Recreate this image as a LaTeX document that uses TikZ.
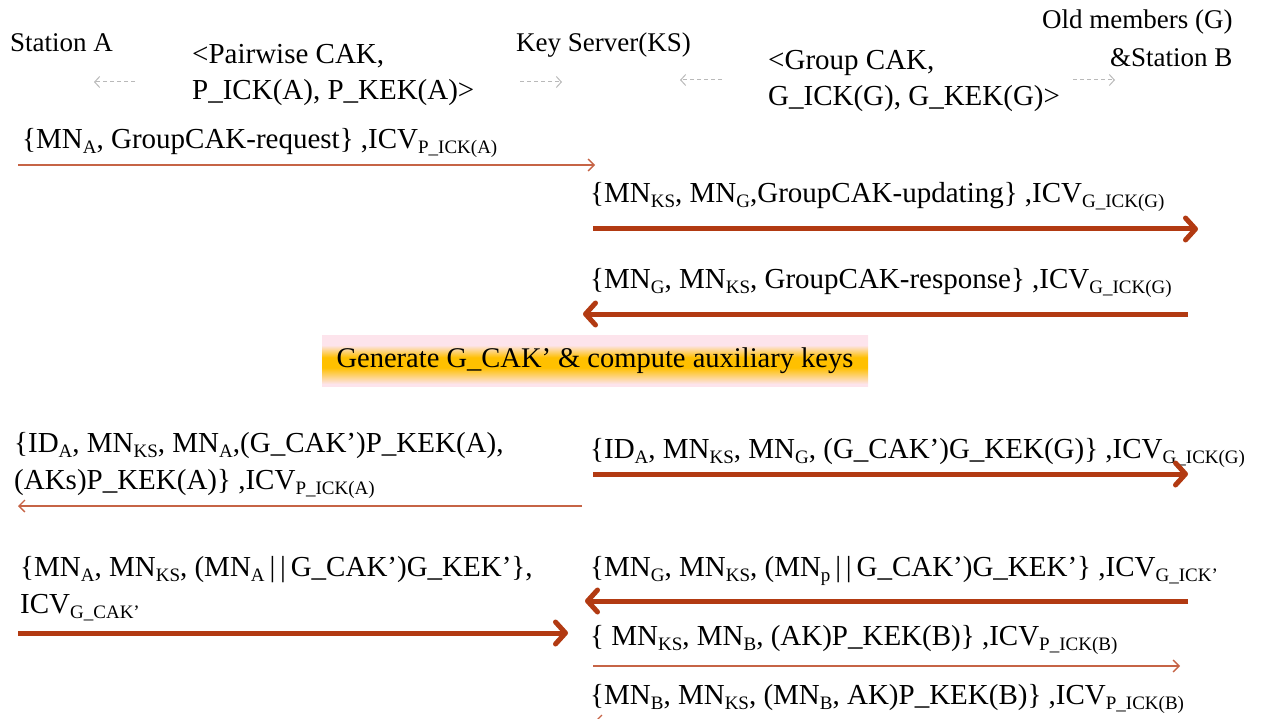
\documentclass[tikz,border=0pt]{standalone}
\usepackage{fontspec}
\setmainfont{Liberation Serif}
\usetikzlibrary{arrows.meta}

\definecolor{rust}{RGB}{178,58,18}
\definecolor{rustlight}{RGB}{198,100,70}
\definecolor{hintgray}{RGB}{185,185,185}
\definecolor{bandpink}{RGB}{253,228,236}
\definecolor{bandgold}{RGB}{255,192,0}

% vertical band: pink edges, gold core (path spans 25bp..75bp)
\pgfdeclareverticalshading{genband}{100bp}{%
  color(0bp)=(bandpink); color(27bp)=(bandpink); color(43bp)=(bandgold);
  color(53bp)=(bandgold); color(65bp)=(bandpink); color(100bp)=(bandpink)}

% lowered small index text
\newcommand\sbs[1]{\raisebox{-5pt}{\fontsize{19}{19}\selectfont #1}}

\tikzset{
  lbl/.style={inner sep=0pt, anchor=base west, font=\fontsize{29}{37}\selectfont, align=left},
  hdr/.style={inner sep=0pt, anchor=base west, font=\fontsize{27}{37}\selectfont},
  keyset/.style={inner sep=0pt, anchor=base west, font=\fontsize{29}{36}\selectfont, align=left},
  thickmsg/.style={draw=rust, line width=5pt, -{Straight Barb[length=10pt,width=22pt,round]}},
  thinmsg/.style={draw=rustlight, line width=1.3pt, -{Straight Barb[length=6pt,width=12pt]}},
  keyhint/.style={draw=hintgray, line width=1pt, dash pattern=on 4pt off 3pt,
    -{Straight Barb[length=5pt,width=11pt]}},
  genbox/.style={inner sep=0pt, minimum width=546pt, minimum height=51pt,
    shading=genband, font=\fontsize{28.5}{37}\selectfont},
}

\begin{document}
\begin{tikzpicture}[x=1pt,y=-1pt]
\path[use as bounding box, clip] (0,0) rectangle (1265,719);

% parties
\node[hdr] (stA) at (10,52) {Station A};
\node[hdr] (ks) at (516,52) {Key Server(KS)};
\node[hdr] (oldG) at (1042,29) {Old members (G)};
\node[hdr] (stB) at (1110,67) {\&Station B};

% pre-shared key sets (anchored at the last line)
\node[keyset] (pkeys) at (192,100) {<Pairwise CAK,\\P\_ICK(A), P\_KEK(A)>};
\node[keyset] (gkeys) at (768,106) {<Group CAK,\\G\_ICK(G), G\_KEK(G)>};

\coordinate (h1s) at (135,82); \coordinate (h1e) at (94,82);
\coordinate (h2s) at (520,82); \coordinate (h2e) at (562,82);
\coordinate (h3s) at (722,80); \coordinate (h3e) at (680,80);
\coordinate (h4s) at (1073,80); \coordinate (h4e) at (1115,80);
\draw[keyhint] (h1s) -- (h1e);
\draw[keyhint] (h2s) -- (h2e);
\draw[keyhint] (h3s) -- (h3e);
\draw[keyhint] (h4s) -- (h4e);

% request from station A
\node[lbl] (m1) at (22,149) {\{MN\sbs{A}, GroupCAK-request\} ,ICV\sbs{P\_ICK(A)}};
\coordinate (a1s) at (18,165); \coordinate (a1e) at (595,165);
\draw[thinmsg] (a1s) -- (a1e);

% update round with the group
\node[lbl] (m2) at (590,203) {\{MN\sbs{KS}, MN\sbs{G},GroupCAK-updating\} ,ICV\sbs{G\_ICK(G)}};
\coordinate (a2s) at (593,229); \coordinate (a2e) at (1198,229);
\draw[thickmsg] (a2s) -- (a2e);

\node[lbl] (m3) at (590,288) {\{MN\sbs{G}, MN\sbs{KS}, GroupCAK-response\} ,ICV\sbs{G\_ICK(G)}};
\coordinate (a3s) at (1188,314); \coordinate (a3e) at (583,314);
\draw[thickmsg] (a3s) -- (a3e);

% key generation step
\node[genbox] (gen) at (595,360.5) {Generate G\_CAK’ \& compute auxiliary keys};

% distribution of the new group key
\node[lbl] (m4) at (14,489) {\{ID\sbs{A}, MN\sbs{KS}, MN\sbs{A},(G\_CAK’)P\_KEK(A),\\(AKs)P\_KEK(A)\} ,ICV\sbs{P\_ICK(A)}};
\coordinate (a4s) at (582,506); \coordinate (a4e) at (18,506);
\draw[thinmsg] (a4s) -- (a4e);

\node[lbl] (m5) at (590,458) {\{ID\sbs{A}, MN\sbs{KS}, MN\sbs{G}, (G\_CAK’)G\_KEK(G)\} ,ICV\sbs{G\_ICK(G)}};
\coordinate (a5s) at (593,474); \coordinate (a5e) at (1188,474);
\draw[thickmsg] (a5s) -- (a5e);

% confirmations
\node[lbl] (m6) at (20,613) {\{MN\sbs{A}, MN\sbs{KS}, (MN\sbs{A}\,|\,|\,G\_CAK’)G\_KEK’\},\\ICV\sbs{G\_CAK’}};
\coordinate (a6s) at (18,633); \coordinate (a6e) at (568,633);
\draw[thickmsg] (a6s) -- (a6e);

\node[lbl] (m7) at (590,576) {\{MN\sbs{G}, MN\sbs{KS}, (MN\sbs{p}\,|\,|\,G\_CAK’)G\_KEK’\} ,ICV\sbs{G\_ICK’}};
\coordinate (a7s) at (1188,601); \coordinate (a7e) at (585,601);
\draw[thickmsg] (a7s) -- (a7e);

% auxiliary key for station B
\node[lbl] (m8) at (590,645) {\{ MN\sbs{KS}, MN\sbs{B}, (AK)P\_KEK(B)\} ,ICV\sbs{P\_ICK(B)}};
\coordinate (a8s) at (593,666); \coordinate (a8e) at (1180,666);
\draw[thinmsg] (a8s) -- (a8e);

\node[lbl] (m9) at (590,704) {\{MN\sbs{B}, MN\sbs{KS}, (MN\sbs{B}, AK)P\_KEK(B)\} ,ICV\sbs{P\_ICK(B)}};
\coordinate (a9s) at (1188,721); \coordinate (a9e) at (595,721);
\draw[thinmsg] (a9s) -- (a9e);
\end{tikzpicture}
\end{document}
